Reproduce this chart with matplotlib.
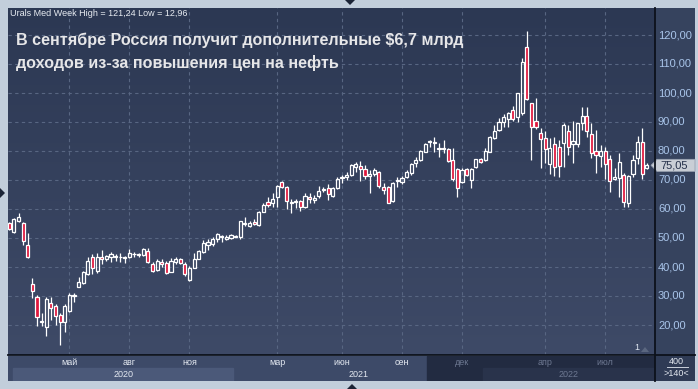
import matplotlib
matplotlib.use("Agg")
import matplotlib.pyplot as plt
import numpy as np
from matplotlib.patches import Rectangle, Polygon
from matplotlib.transforms import Affine2D, blended_transform_factory
from matplotlib.colors import LinearSegmentedColormap

# ---------------- data ----------------
title_lines = ["В сентябре Россия получит дополнительные $6,7 млрд",
               "доходов из-за повышения цен на нефть"]
header = "Urals Med Week High = 121,24 Low = 12,96"

opens = [55.2, 52.1, 55.9, 55.2, 47.6, 34.1, 29.7, 21.0, 19.3, 27.6,
         26.6, 23.4, 21.0, 24.8, 30.0, 33.1, 34.5, 37.6, 43.4, 38.6,
         43.4, 42.8, 43.4, 43.6, 43.4, 43.0, 43.4, 44.4, 44.2, 44.1,
         45.5, 41.0, 39.0, 41.7, 41.4, 38.3, 41.7, 42.8, 41.0, 35.5,
         39.7, 42.8, 45.2, 47.6, 47.9, 49.7, 50.5, 49.7, 49.9, 50.5,
         50.4, 54.8, 54.2, 55.6, 54.5, 59.1, 62.3, 62.2, 64.2, 69.2,
         67.5, 62.2, 62.3, 62.8, 60.8, 64.2, 63.1, 64.6, 66.7, 67.1,
         64.6, 67.1, 71.1, 70.9, 71.7, 74.6, 74.8, 73.7, 71.4, 72.0,
         72.7, 67.5, 67.5, 62.8, 69.8, 69.2, 71.1, 72.3, 76.0, 76.9,
         79.8, 83.1, 83.2, 81.1, 81.0, 80.6, 76.9, 73.8, 69.4, 73.8,
         70.0, 74.6, 77.2, 76.9, 79.8, 84.6, 87.2, 89.9, 91.0, 94.1,
         91.8, 93.0, 115.8, 96.4, 90.3, 86.1, 84.4, 75.4, 82.3, 81.5,
         82.7, 87.0, 82.3, 82.4, 89.8, 92.1, 85.9, 79.9, 78.3, 80.0,
         77.1, 70.2, 70.6, 71.8, 62.0, 72.0, 77.5, 83.0, 74.2]
highs = [55.5, 57.0, 58.6, 55.5, 51.7, 36.2, 30.3, 24.1, 29.7, 29.7,
         27.3, 24.1, 27.3, 31.0, 30.9, 36.6, 38.7, 43.4, 44.5, 44.8,
         45.9, 44.1, 45.2, 44.5, 44.8, 43.8, 46.2, 45.2, 44.8, 46.6,
         46.6, 41.7, 42.8, 42.8, 42.1, 43.1, 43.4, 43.1, 41.7, 40.2,
         44.8, 45.9, 49.3, 49.7, 50.3, 51.7, 51.0, 51.0, 51.3, 50.9,
         56.0, 57.4, 56.0, 56.7, 59.4, 61.9, 64.2, 65.6, 68.3, 69.6,
         67.8, 63.3, 63.3, 63.2, 65.5, 65.5, 64.8, 67.9, 67.7, 68.5,
         67.6, 71.1, 71.7, 72.9, 75.5, 76.3, 76.6, 75.2, 73.4, 74.2,
         73.0, 69.1, 67.8, 69.4, 71.1, 71.5, 73.4, 76.0, 77.8, 80.5,
         82.6, 83.8, 84.7, 82.9, 83.8, 81.1, 80.9, 74.2, 74.2, 74.2,
         74.2, 77.4, 77.6, 81.1, 85.3, 89.0, 91.3, 92.6, 93.3, 95.5,
         100.0, 112.2, 121.24, 96.7, 98.4, 87.8, 87.0, 84.4, 84.9, 83.8,
         89.5, 89.0, 90.4, 89.8, 95.3, 95.3, 89.5, 87.2, 82.1, 81.5,
         78.6, 74.0, 79.2, 72.4, 71.8, 78.6, 85.3, 87.8, 75.8]
lows = [52.8, 51.7, 55.5, 47.6, 43.1, 29.3, 19.7, 19.7, 16.2, 21.7,
        20.0, 12.96, 17.6, 24.5, 28.0, 33.0, 34.3, 37.3, 37.6, 37.9,
        41.0, 42.0, 41.7, 42.0, 41.7, 41.5, 43.0, 43.6, 43.6, 43.8,
        41.4, 38.3, 38.6, 40.0, 37.6, 38.3, 41.0, 41.2, 36.9, 35.3,
        39.7, 42.8, 44.8, 45.9, 47.3, 48.6, 48.6, 49.3, 49.6, 50.2,
        49.7, 54.1, 53.9, 54.5, 54.2, 58.8, 60.8, 60.8, 60.8, 67.2,
        59.9, 58.5, 60.5, 59.2, 60.2, 61.9, 62.2, 63.7, 66.0, 63.1,
        64.3, 66.8, 68.9, 70.0, 71.4, 72.6, 69.8, 70.2, 65.4, 71.4,
        67.1, 65.2, 62.0, 62.5, 67.7, 68.6, 70.6, 71.8, 74.4, 76.7,
        79.6, 81.3, 79.8, 78.0, 79.4, 76.3, 69.5, 64.2, 68.9, 71.5,
        67.3, 74.3, 75.8, 76.6, 79.5, 84.2, 86.9, 88.2, 88.2, 90.4,
        90.1, 92.5, 97.5, 76.9, 87.7, 74.3, 76.0, 72.0, 71.4, 71.1,
        74.4, 78.6, 76.0, 81.5, 87.2, 84.9, 77.5, 72.3, 74.6, 70.2,
        66.0, 70.0, 64.0, 60.6, 60.8, 71.1, 75.5, 70.2, 73.8]
closes = [53.1, 56.6, 57.2, 49.0, 43.4, 31.7, 22.8, 21.3, 29.0, 25.9,
          23.1, 21.0, 26.6, 30.3, 30.2, 34.8, 38.3, 42.1, 39.7, 43.4,
          42.8, 43.8, 44.5, 43.7, 43.5, 43.6, 44.8, 44.6, 44.4, 46.2,
          41.7, 38.6, 42.1, 41.0, 38.0, 42.1, 42.8, 41.4, 37.6, 39.7,
          42.8, 45.5, 48.3, 48.6, 49.7, 51.4, 50.6, 50.4, 51.0, 50.7,
          55.9, 55.3, 55.3, 54.8, 59.1, 61.4, 61.4, 63.3, 67.9, 67.5,
          62.9, 62.4, 62.9, 60.6, 64.5, 63.6, 63.9, 66.3, 66.9, 65.1,
          67.1, 70.3, 70.6, 71.7, 75.2, 75.4, 73.7, 71.4, 72.1, 73.4,
          67.9, 66.7, 62.2, 69.1, 69.9, 70.6, 72.7, 75.4, 76.9, 80.0,
          82.3, 83.3, 82.6, 80.6, 80.7, 76.6, 70.3, 67.3, 73.4, 71.7,
          73.8, 77.1, 76.1, 80.0, 84.7, 86.9, 89.9, 91.8, 93.0, 91.0,
          99.9, 110.6, 97.9, 88.3, 88.3, 84.1, 80.7, 80.9, 74.4, 74.8,
          89.0, 81.3, 83.4, 89.5, 92.1, 87.0, 79.2, 78.5, 79.9, 75.5,
          69.8, 71.0, 76.1, 62.5, 71.4, 76.9, 83.0, 72.0, 75.05]
last_price = 75.05

month_labels = ['май', 'авг', 'ноя', 'мар', 'июн', 'сен', 'дек', 'апр', 'июл']
month_candle = [13, 26, 39, 58, 72, 85, 98, 116, 129]   # first weekly candle of month
year_labels = ['2020', '2021', '2022']
year_candle = [0.8, 48.5, 102.5]                          # year boundary (candle units)
y_ticks = [20, 30, 40, 50, 60, 70, 80, 90, 100, 110, 120]

# ---------------- layout ----------------
W, H = 698, 389
fig = plt.figure(figsize=(W / 100, H / 100), dpi=100)
fig.patch.set_facecolor('#c2cedb')
pix = Affine2D().scale(1 / W, -1 / H).translate(0, 1) + fig.transFigure


def rect(x0, y0, x1, y1):
    return [x0 / W, 1 - y1 / H, (x1 - x0) / W, (y1 - y0) / H]


PX0, STEP = 9.3, 4.62          # first candle centre (px) and candle spacing (px)
def k_of(px):
    return (px - PX0) / STEP

XL = (k_of(8), k_of(655))
YL = (120 - (355 - 35) / 2.9, 120 + (35 - 8) / 2.9)

# right price panel and bottom-right box
ax_r = fig.add_axes(rect(655, 8, 695, 355))
ax_r.set_axis_off()
ax_r.add_patch(Rectangle((0, 0), 1, 1, transform=ax_r.transAxes, color='#36435e'))
ax_br = fig.add_axes(rect(655, 355, 695, 381))
ax_br.set_axis_off()
ax_br.add_patch(Rectangle((0, 0), 1, 1, transform=ax_br.transAxes, color='#2f3b55'))

# main plot
ax = fig.add_axes(rect(8, 8, 655, 355))
grad = np.linspace(0, 1, 256).reshape(-1, 1)
cmap_bg = LinearSegmentedColormap.from_list('bg', ['#3e4a67', '#2c3853'])
ax.imshow(grad, extent=[XL[0], XL[1], YL[1], YL[0]], aspect='auto', cmap=cmap_bg,
          origin='upper', zorder=0, interpolation='bilinear')
ax.set_xlim(*XL); ax.set_ylim(*YL)
for s in ax.spines.values():
    s.set_visible(False)
ax.set_xticks([]); ax.set_yticks([])

grid_kw = dict(color='#586682', lw=0.8, ls=(0, (3, 3)), zorder=1)
for v in y_ticks:
    ax.axhline(v, **grid_kw)
for m in month_candle:
    ax.axvline(m, **grid_kw)

# candles
O = np.array(opens); Hh = np.array(highs); L = np.array(lows); C = np.array(closes)
x = np.arange(len(O))
top = np.maximum(O, C); bot = np.minimum(O, C)
ax.vlines(x, top, Hh, color='white', lw=0.9, zorder=2)
ax.vlines(x, L, bot, color='white', lw=0.9, zorder=2)
red = '#e0163c'
fills = ['none' if c >= o else red for o, c in zip(O, C)]
ax.bar(x, np.maximum(top - bot, 0.12), bottom=bot, width=0.68, color=fills,
       edgecolor='white', linewidth=0.9, zorder=3)

# y labels on the right
ty = blended_transform_factory(fig.transFigure, ax.transData)
for v in y_ticks:
    fig.text(658 / W, v, f"{v:.2f}".replace('.', ','), transform=ty,
             ha='left', va='center', fontsize=8, color='#a9c5ea',
             family=['Liberation Sans Narrow', 'Liberation Sans', 'DejaVu Sans'])

# price box
py = H - ax.transData.transform((0, last_price))[1]
box = Polygon([(651, py), (657, py - 6), (695, py - 6), (695, py + 6), (657, py + 6)],
              closed=True, transform=pix, facecolor='#c9ced6', edgecolor='#9aa3b2', lw=0.6)
fig.add_artist(box)
fig.text(660, py, f"{last_price:.2f}".replace('.', ','), transform=pix, ha='left', va='center',
         fontsize=8, color='#24304a',
         family=['Liberation Sans Narrow', 'Liberation Sans', 'DejaVu Sans'])

# separators
fig.add_artist(plt.Line2D([655, 655], [8, 381], transform=pix, color='#0c111b', lw=1.3))
fig.add_artist(plt.Line2D([8, 695], [355, 355], transform=pix, color='#0c111b', lw=1.3))

# titles
fig.text(10, 14, header, transform=pix, ha='left', va='center', fontsize=6.5,
         color='#e8ecf2', family=['Liberation Sans', 'DejaVu Sans'])
fig.text(16, 40, title_lines[0], transform=pix, ha='left', va='center', fontsize=11.6,
         color='#e6e6e8', fontweight='bold', family=['Liberation Sans', 'DejaVu Sans'])
fig.text(16, 63, title_lines[1], transform=pix, ha='left', va='center', fontsize=11.6,
         color='#e6e6e8', fontweight='bold', family=['Liberation Sans', 'DejaVu Sans'])

# "1" marker bottom right
fig.text(637, 348, '1', transform=pix, ha='center', va='center', fontsize=6.5,
         color='#dfe6f0', family=['Liberation Sans', 'DejaVu Sans'])
fig.add_artist(Polygon([(641, 352), (645, 347), (649, 352)], transform=pix,
                       facecolor='#5b6780', edgecolor='none'))

# ---------------- bottom date strip ----------------
ax_s = fig.add_axes(rect(8, 356, 655, 381))
ax_s.set_xlim(*XL); ax_s.set_ylim(25, 0)
ax_s.set_axis_off()
ax_s.add_patch(Rectangle((XL[0], 0), XL[1] - XL[0], 25, color='#3d4a68', zorder=0))
ax_s.add_patch(Rectangle((year_candle[0], 12), year_candle[1] - year_candle[0], 13,
                         color='#4b5979', zorder=1))
dark_from = k_of(427)
ax_s.add_patch(Rectangle((dark_from, 0), XL[1] - dark_from, 25, color='#222b41', zorder=2))
ax_s.add_patch(Rectangle((year_candle[2], 12), XL[1] - year_candle[2], 13,
                         color='#29334b', zorder=3))
for lab, m in zip(month_labels, month_candle):
    col = '#6d7891' if m > dark_from else '#e3e8f0'
    ax_s.text(m, 6.5, lab, ha='center', va='center', fontsize=6.5, color=col, zorder=5,
              family=['Liberation Sans', 'DejaVu Sans'])
bounds = year_candle + [XL[1]]
for i, lab in enumerate(year_labels):
    cx = (bounds[i] + bounds[i + 1]) / 2
    col = '#6d7891' if bounds[i] > dark_from else '#e3e8f0'
    ax_s.text(cx, 18.5, lab, ha='center', va='center', fontsize=6.5, color=col, zorder=5,
              family=['Liberation Sans', 'DejaVu Sans'])

# bottom right box texts
fig.text(676, 362, '400', transform=pix, ha='center', va='center', fontsize=6.5,
         color='#e3e8f0', family=['Liberation Sans', 'DejaVu Sans'])
fig.add_artist(plt.Line2D([667, 688], [367, 367], transform=pix, color='#c9d0dc', lw=0.7))
fig.text(676, 374, '>140<', transform=pix, ha='center', va='center', fontsize=6.5,
         color='#e3e8f0', family=['Liberation Sans', 'DejaVu Sans'])

# border triangles
tri_col = '#1b2436'
fig.add_artist(Polygon([(345, 0), (355, 0), (350, 5)], transform=pix, facecolor=tri_col))
fig.add_artist(Polygon([(347, 389), (357, 389), (352, 384)], transform=pix, facecolor=tri_col))
fig.add_artist(Polygon([(0, 188), (0, 198), (5, 193)], transform=pix, facecolor=tri_col))

fig.savefig('out.png', dpi=100, facecolor=fig.get_facecolor())
